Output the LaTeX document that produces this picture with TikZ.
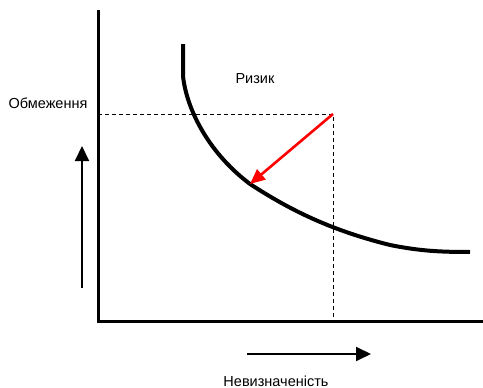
\documentclass[tikz,border=0pt]{standalone}
\usepackage{fontspec}
\setmainfont{Liberation Sans}
\usetikzlibrary{arrows.meta}
\begin{document}
\begin{tikzpicture}[x=1pt,y=-1pt,
  axis/.style={line width=3pt},
  curve/.style={line width=4pt},
  guide/.style={line width=0.9pt,dash pattern=on 4pt off 3pt},
  dir/.style={line width=2pt,-{Triangle[width=14pt,length=15pt]}},
  redarr/.style={red,line width=2.6pt,-{Triangle[width=13pt,length=15pt]}},
  lbl/.style={font=\fontsize{14.5pt}{16pt}\selectfont,inner sep=0pt}]
\useasboundingbox (0,0) rectangle (483,388);
\coordinate (top) at (98,10);
\coordinate (origin) at (98,321);
\coordinate (xend) at (483,321);
\coordinate (p) at (333,114);
\coordinate (pl) at (98,114);
\coordinate (pb) at (333,321);
\coordinate (hit) at (250,184);
\coordinate (ua) at (82,288);
\coordinate (ub) at (82,146);
\coordinate (ra) at (247,354);
\coordinate (rb) at (371,354);
\draw[axis] (top) -- (origin) -- (xend);
\draw[guide] (pl) -- (p) -- (pb);
\draw[curve] (183,44) -- (183,76)
  .. controls (186,105) and (205,150) .. (hit)
  .. controls (290,210) and (330,230) .. (390,245)
  .. controls (420,251) and (440,252) .. (470,252);
\draw[redarr] (p) -- (hit);
\draw[dir] (ua) -- (ub);
\draw[dir] (ra) -- (rb);
\node[lbl] (ylab) at (48,103) {Обмеження};
\node[lbl] (risk) at (255,79) {Ризик};
\node[lbl] (xlab) at (276,381) {Невизначеність};
\end{tikzpicture}
\end{document}
